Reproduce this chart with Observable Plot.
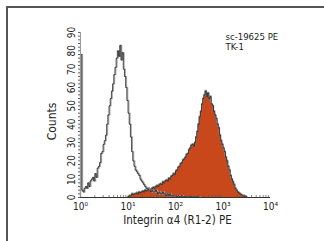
<!DOCTYPE html>
<html><head><meta charset="utf-8">
<script src="https://cdn.jsdelivr.net/npm/d3@7"></script>
<script src="https://cdn.jsdelivr.net/npm/@observablehq/plot@0.6"></script>
<style>
html,body{margin:0;padding:0;background:#fff;width:324px;height:241px;overflow:hidden}
#wrap{position:relative;width:324px;height:241px}
#frame{position:absolute;left:6px;top:6px;right:0;bottom:0;border-top:2px solid #555;border-left:2px solid #555}
#chart{position:absolute;left:0;top:0}
</style></head><body><div id="wrap"><div id="frame"></div><div id="chart"></div></div>
<script>
// log10 bin starts, bin width in log10 units
const binStep = 0.025;
const controlStart = 0.0;
const sampleStart = 1.0;
// control (isotype) histogram, unfilled
const controlCounts = [
  78, 4, 3, 5, 6, 5, 8, 6, 9, 10, 11, 9, 13, 11, 16, 17, 19, 24, 25, 29,
  31, 34, 40, 45, 50, 54, 58, 62, 67, 71, 76, 80, 77, 83, 75, 79, 70, 66, 60, 53,
  46, 40, 33, 25, 20, 17, 15, 14, 13, 12, 10, 9, 8, 7, 6, 5, 5, 4, 4, 3,
  4, 3, 3, 4, 3, 2, 3, 2, 2, 3, 2, 2, 1, 2, 1, 2, 1, 1, 1, 1,
  1, 0.5, 1, 0.5, 0.5, 1, 0.5, 0.5, 0.5, 0.5, 0.5, 0.5, 0.5, 0.5, 0.5, 0.5, 0.5, 0.5, 0.5, 0.5, 0
];
// integrin alpha4 stained histogram, filled
const sampleCounts = [
  0.5, 1, 1, 2, 1.5, 2, 2, 2.5, 2, 3, 2.5, 3, 3.5, 3, 4, 3.5, 4, 5, 4, 4.5,
  5, 5.5, 5, 6, 6.5, 6, 7, 7.5, 7, 8.5, 8, 9, 9.5, 9, 10.5, 10, 11.5, 12, 13, 12.5,
  14.5, 15, 16.5, 17, 18.5, 19, 20.5, 21, 22, 23.5, 24, 26, 27, 28.5, 29, 28, 30, 33, 36, 40,
  44, 47, 51, 54, 56, 58, 55, 57, 54, 55, 51, 50, 47, 45, 43, 40, 38, 34, 31, 29,
  27, 25, 22, 20, 17, 15, 12, 10, 8.5, 7, 5, 4, 3, 2.5, 2, 1.5, 1, 1, 0.5, 0.5, 0
];
const xTicks = [1, 10, 100, 1000, 10000];
const xTickLabels = ["10\u2070", "10\u00b9", "10\u00b2", "10\u00b3", "10\u2074"];
const yTicks = [0, 10, 20, 30, 40, 50, 60, 70, 80, 90];
const xLabel = "Integrin \u03b14 (R1-2) PE";
const yLabel = "Counts";
const legendLines = ["sc-19625 PE", "TK-1"];

const control = controlCounts.map((c, i) => ({x: Math.pow(10, controlStart + i * binStep), count: c}));
const sample = sampleCounts.map((c, i) => ({x: Math.pow(10, sampleStart + i * binStep), count: c}));
const minorX = [];
for (const d of [1, 10, 100, 1000]) for (let k = 2; k <= 9; k++) minorX.push(d * k);
const minorY = d3.range(0, 91, 2);

const font = '"Liberation Sans Narrow", "DejaVu Sans Condensed", "Liberation Sans", sans-serif';
const ink = "#222";

const chart = Plot.plot({
  width: 324, height: 241,
  marginLeft: 80, marginRight: 54, marginTop: 32, marginBottom: 44,
  x: {type: "log", domain: [1, 10000], axis: null},
  y: {domain: [0, 90], axis: null},
  style: {fontFamily: font, background: "transparent", color: ink},
  marks: [
    Plot.areaY(sample, {x: "x", y: "count", curve: "step-after", fill: "#c9481b"}),
    Plot.lineY(sample, {x: "x", y: "count", curve: "step-after", stroke: "#999", strokeWidth: 1.4, dy: -0.6}),
    Plot.lineY(sample, {x: "x", y: "count", curve: "step-after", stroke: "#111", strokeWidth: 0.7}),
    Plot.ruleX([control[0]], {x: "x", y1: 0, y2: "count", stroke: "#aaa", strokeWidth: 1.5}),
    Plot.lineY(control, {x: "x", y: "count", curve: "step-after", stroke: "#aaa", strokeWidth: 1.4, dx: 0.8}),
    Plot.lineY(control, {x: "x", y: "count", curve: "step-after", stroke: "#111", strokeWidth: 0.7}),
    Plot.ruleX([1], {stroke: "#999", strokeWidth: 1}),
    Plot.axisY({ticks: minorY, tickSize: 2, tickFormat: () => "", stroke: "#666", label: null}),
    Plot.ruleY([0], {stroke: "#333", strokeWidth: 1}),
    Plot.ruleX(minorX, {x: d => d, y1: 0, y2: 1.1, stroke: "#555", strokeWidth: 0.7}),
    Plot.text(yTicks, {y: d => d, text: d => String(d), frameAnchor: "left", rotate: -90, dx: -9, textAnchor: "middle", lineAnchor: "middle", fontSize: 10, fill: ink}),
    Plot.text(xTicks, {x: d => d, text: (d, i) => xTickLabels[i], frameAnchor: "bottom", lineAnchor: "top", dy: 5.5, textAnchor: "middle", fontSize: 10, fill: ink}),
    Plot.text([xLabel], {frameAnchor: "bottom", lineAnchor: "top", dy: 18.5, dx: 2, textAnchor: "middle", fontSize: 11.5, fill: ink}),
    Plot.text([yLabel], {frameAnchor: "left", rotate: -90, dx: -28, dy: 6.5, textAnchor: "middle", lineAnchor: "middle", fontSize: 12, fill: ink}),
    Plot.text([legendLines.join("\n")], {frameAnchor: "top-left", dx: 145, dy: 0, textAnchor: "start", lineAnchor: "top", lineHeight: 1.1, fontSize: 9.5, fill: ink})
  ]
});
document.getElementById("chart").appendChild(chart);
</script></body></html>
